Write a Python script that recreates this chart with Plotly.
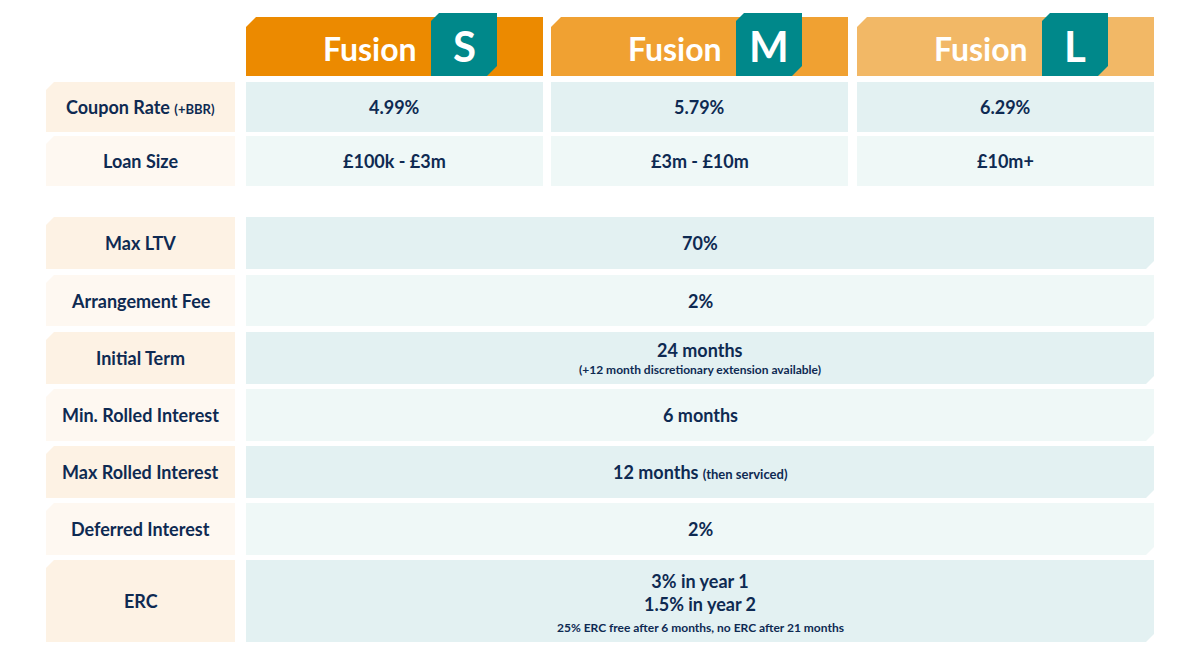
import plotly.graph_objects as go

tiers = ["S", "M", "L"]
tier_colors = ["#EC8A00", "#F0A132", "#F2B866"]
coupon_rates = ["4.99%", "5.79%", "6.29%"]
loan_sizes = ["£100k - £3m", "£3m - £10m", "£10m+"]
row_labels = ["Max LTV", "Arrangement Fee", "Initial Term", "Min. Rolled Interest",
              "Max Rolled Interest", "Deferred Interest", "ERC"]
row_values = ["70%", "2%", "24 months", "6 months",
              "12 months <span style='font-size:13px'>(then serviced)</span>", "2%",
              "3% in year 1<br>1.5% in year 2"]
row_notes = ["", "", "(+12 month discretionary extension available)", "", "", "",
             "25% ERC free after 6 months, no ERC after 21 months"]

NAVY = "#0E2A52"
TEAL = "#00888A"
LAB = ["#FDF2E4", "#FEF8F1"]
VAL = ["#E3F1F2", "#EFF8F7"]
FONT = "Lato, Open Sans, sans-serif"

cols = [(246, 543), (551, 848), (857, 1154)]
shapes, ann = [], []

def poly(pts, color):
    d = "M " + " L ".join(f"{x},{y}" for x, y in pts) + " Z"
    shapes.append(dict(type="path", path=d, fillcolor=color, line=dict(width=0), layer="below"))

def tl_cut(x0, y0, x1, y1, c, k=8):
    poly([(x0, y0 + k), (x0 + k, y0), (x1, y0), (x1, y1), (x0, y1)], c)

def br_cut(x0, y0, x1, y1, c, k=8):
    poly([(x0, y0), (x1, y0), (x1, y1 - k), (x1 - k, y1), (x0, y1)], c)

def text(x, y, s, size, color=NAVY):
    ann.append(dict(x=x, y=y, text=s, showarrow=False, xref="x", yref="y",
                    font=dict(family=FONT, size=size, color=color), xanchor="center", yanchor="middle"))

for i, (x0, x1) in enumerate(cols):
    tl_cut(x0, 17, x1, 76, tier_colors[i], 10)
    bx = x0 + 185
    poly([(bx, 21), (bx + 8, 13), (bx + 66, 13), (bx + 66, 66), (bx + 56, 76), (bx, 76)], TEAL)
    text(x0 + 124, 48, "<b>Fusion</b>", 32, "white")
    text(bx + 33, 46, "<b>" + tiers[i] + "</b>", 42, "white")

top_rows = [("Coupon Rate <span style='font-size:13px'>(+BBR)</span>", coupon_rates, 82, 132),
            ("Loan Size", loan_sizes, 136, 186)]
for r, (lab, vals, y0, y1) in enumerate(top_rows):
    tl_cut(46, y0, 235, y1, LAB[r])
    text(140.5, (y0 + y1) / 2, "<b>" + lab + "</b>", 18)
    for i, (x0, x1) in enumerate(cols):
        shapes.append(dict(type="rect", x0=x0, x1=x1, y0=y0, y1=y1, fillcolor=VAL[r],
                           line=dict(width=0), layer="below"))
        text((x0 + x1) / 2, (y0 + y1) / 2, "<b>" + vals[i] + "</b>", 18)

bands = [(217, 269), (275, 326), (332, 384), (389, 441), (446, 498), (503, 555), (560, 642)]
for r, (y0, y1) in enumerate(bands):
    tl_cut(46, y0, 235, y1, LAB[r % 2])
    br_cut(246, y0, 1154, y1, VAL[r % 2])
    text(140.5, (y0 + y1) / 2, "<b>" + row_labels[r] + "</b>", 18)
    note = row_notes[r]
    if r == 6:
        text(700, 592, "<b>" + row_values[r] + "</b>", 18)
        text(700, 627, "<b>" + note + "</b>", 12)
    elif note:
        text(700, 350, "<b>" + row_values[r] + "</b>", 18)
        text(700, 369, "<b>" + note + "</b>", 12)
    else:
        text(700, (y0 + y1) / 2, "<b>" + row_values[r] + "</b>", 18)

fig = go.Figure(go.Scatter(x=[8, 1208], y=[8, 672], mode="markers", marker=dict(opacity=0),
                           hoverinfo="skip", showlegend=False))
fig.update_layout(width=1200, height=664, margin=dict(l=0, r=0, t=0, b=0),
                  plot_bgcolor="white", paper_bgcolor="white", shapes=shapes, annotations=ann,
                  xaxis=dict(range=[8, 1208], visible=False, fixedrange=True),
                  yaxis=dict(range=[672, 8], visible=False, fixedrange=True))
fig.write_html("out.html", config={"displayModeBar": False})
